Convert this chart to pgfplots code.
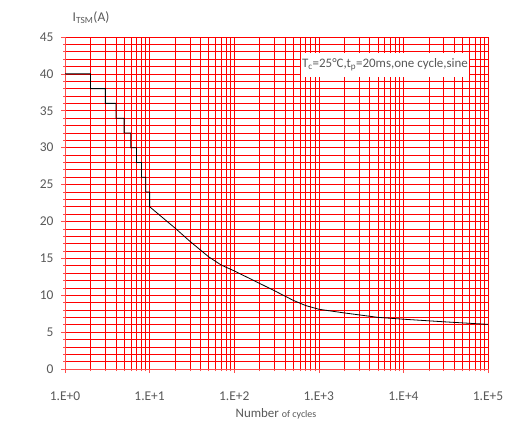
\documentclass[border=0pt]{standalone}
\usepackage{pgfplots}
\pgfplotsset{compat=1.18}
\usepackage{fontspec}
\setmainfont{Carlito}
\definecolor{txtgray}{HTML}{595959}
\definecolor{gridred}{HTML}{FF0000}
\begin{document}
\begin{tikzpicture}
\path[use as bounding box] (-65bp,-52bp) rectangle (441bp,369bp);
\begin{axis}[
  scale only axis,
  width=423bp, height=332bp,
  xmode=log,
  xmin=1, xmax=1e5,
  ymin=0, ymax=45,
  xtick={1,10,100,1000,10000,100000},
  xticklabels={1.E+0,1.E+1,1.E+2,1.E+3,1.E+4,1.E+5},
  minor xtick={2,3,4,5,6,7,8,9,20,30,40,50,60,70,80,90,200,300,400,500,600,700,800,900,2000,3000,4000,5000,6000,7000,8000,9000,20000,30000,40000,50000,60000,70000,80000,90000},
  ytick={0,5,...,45},
  minor ytick={0,1,...,45},
  grid=both,
  major grid style={gridred, line width=0.6bp},
  minor grid style={gridred, line width=0.6bp},
  axis line style={gridred!70, line width=0.6bp},
  axis x line*=bottom, axis y line*=left,
  tick align=outside,
  major tick length=4bp,
  minor tick length=2bp,
  every tick/.style={gridred!70, line width=0.6bp},
  tick label style={font=\fontsize{13.5}{15}\selectfont, text=txtgray},
  /pgf/number format/assume math mode=true,
  xticklabel style={yshift=-15bp},
  yticklabel style={xshift=-4bp},
  clip=false,
]
\addplot[black, line width=0.8bp] coordinates {
 (1,40) (2,40) (2,38) (3,38) (3,36) (4,36) (4,34) (5,34) (5,32) (6,32)
 (6,30) (7,30) (7,28) (8,28) (8,26) (9,26) (9,24) (10,24) (10,22)
 (15,20.3) (20,19.1) (30,17.3) (50,15.2) (70,14.1) (100,13.3)
 (200,11.6) (300,10.6) (500,9.3) (700,8.6) (1000,8.1) (2000,7.6)
 (5000,7.0) (10000,6.75) (30000,6.4) (100000,6.05)
};
\end{axis}
\node[text=txtgray, font=\fontsize{13.5}{15}\selectfont] at (26bp,351bp) {I\textsubscript{TSM}(A)};
\node[fill=white, inner xsep=1bp, inner ysep=6bp, text=txtgray, font=\fontsize{13}{15}\selectfont] at (320bp,304bp) {T\textsubscript{c}=25°C,t\textsubscript{p}=20ms,one cycle,sine};
\node[text=txtgray] at (211bp,-45bp) {\fontsize{13}{15}\selectfont Number \fontsize{10}{12}\selectfont of cycles};
\end{tikzpicture}
\end{document}
